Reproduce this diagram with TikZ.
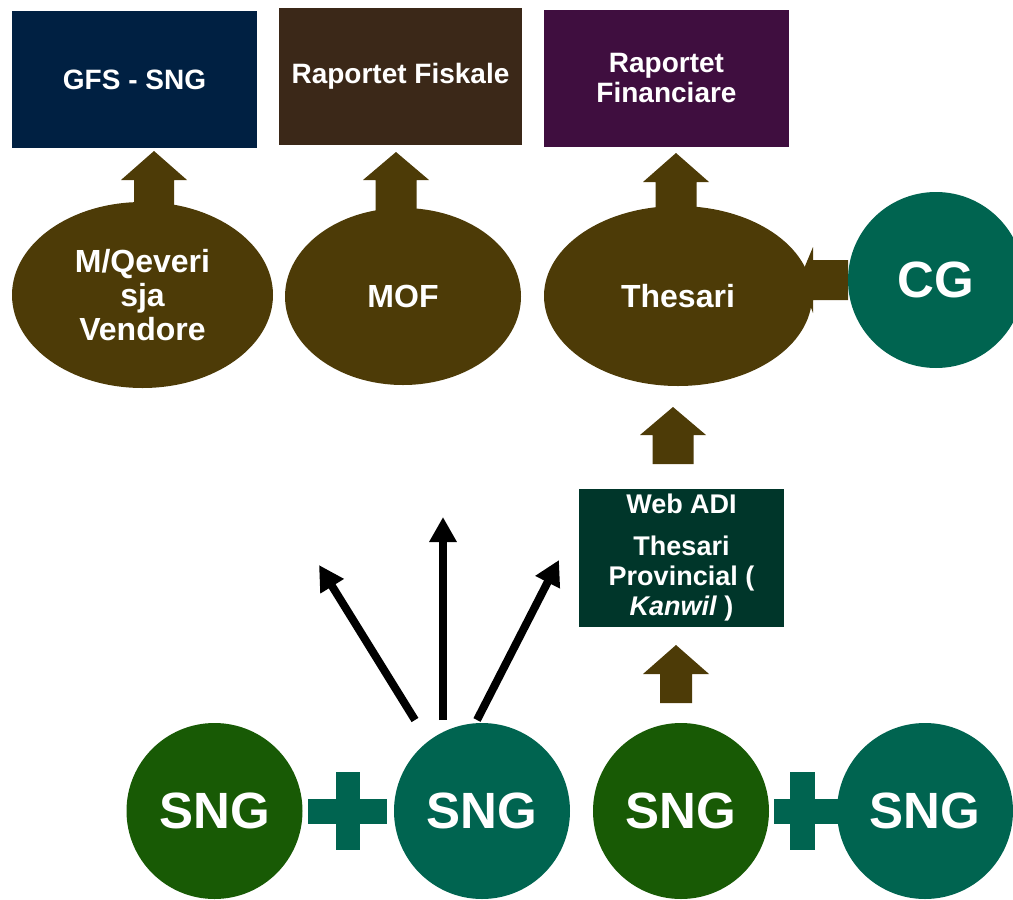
\documentclass[tikz,border=0pt]{standalone}
\usepackage{fontspec}
\setmainfont{Liberation Sans}
\usetikzlibrary{shapes.geometric,arrows.meta}
\definecolor{navyc}{HTML}{002042}
\definecolor{fiskc}{HTML}{3B2818}
\definecolor{finc}{HTML}{3F0E3F}
\definecolor{brownc}{HTML}{4D3B07}
\definecolor{tealc}{HTML}{006450}
\definecolor{greenc}{HTML}{185A05}
\definecolor{webc}{HTML}{00362A}
\tikzset{
  report/.style={rectangle, inner sep=0pt, text=white, align=center,
    font=\bfseries\fontsize{28}{30}\selectfont},
  office/.style={ellipse, fill=brownc, inner sep=0pt, text=white, align=center,
    font=\bfseries\fontsize{32}{34}\selectfont},
  unit/.style={circle, inner sep=0pt, minimum size=176pt, text=white,
    font=\bfseries\fontsize{51}{56}\selectfont},
  blk/.style={line width=8pt, -{Triangle[width=26pt,length=25pt]}}
}
% block arrow pointing up: centre x, tip y, head base y, bottom y, shaft half width
\newcommand{\blockup}[5]{%
  \fill[brownc] ({#1-#5},#4) -- ({#1-#5},#3) -- ({#1-33},#3) -- (#1,#2)
    -- ({#1+33},#3) -- ({#1+#5},#3) -- ({#1+#5},#4) -- cycle;}
\begin{document}
\begin{tikzpicture}[x=1pt, y=-1pt]
\useasboundingbox (0,0) rectangle (1013,900);
% reports
\node[report, fill=navyc, minimum width=245pt, minimum height=137pt] (gfs) at (134.5,79.5) {GFS - SNG};
\node[report, fill=fiskc, minimum width=243pt, minimum height=137pt] (fisk) at (400.5,76.5) {Raportet Fiskale};
\node[report, fill=finc, minimum width=245pt, minimum height=137pt] (fin) at (666.5,78.5) {Raportet\\Financiare};
% arrows up to the reports
\blockup{154}{151}{180}{215}{20}
\blockup{396}{152}{180}{215}{20.5}
\blockup{676}{153}{182}{215}{20.5}
% offices
\node[office, minimum width=261pt, minimum height=186pt] (mqv) at (142.5,295) {M/Qeveri\\sja\\Vendore};
\node[office, minimum width=236pt, minimum height=177pt] (mof) at (403,296.5) {MOF};
\node[office, minimum width=268pt, minimum height=180pt] (thes) at (678,296) {Thesari};
% CG into Thesari
\fill[brownc] (848,300) -- (813,300) -- (813,313) -- (800,278) -- (813,247)
  -- (813,260) -- (848,260) -- cycle;
\node[unit, fill=tealc] (cg) at (936,280) {CG};
% Web ADI
\blockup{673}{407}{435}{464}{20.5}
\node[report, fill=webc, minimum width=205pt, minimum height=138pt,
  font=\bfseries\fontsize{27}{30}\selectfont] (web) at (681.5,558)
  {Web ADI\\[12pt]Thesari\\Provincial (\\\textit{Kanwil} )};
\blockup{676}{645}{674}{703}{16}
% plus signs
\fill[tealc] (336,772) rectangle (360,850);
\fill[tealc] (308,799) rectangle (387,824);
\fill[tealc] (790,772) rectangle (815,850);
\fill[tealc] (774,799) rectangle (838,824);
% SNG units
\node[unit, fill=greenc] (sng1) at (214.5,811) {SNG};
\node[unit, fill=tealc] (sng2) at (482,811) {SNG};
\node[unit, fill=greenc] (sng3) at (681,811) {SNG};
\node[unit, fill=tealc] (sng4) at (925,811) {SNG};
% reporting lines
\coordinate (a1) at (415,720);
\coordinate (a2) at (443,720);
\coordinate (a3) at (477,720);
\coordinate (t1) at (319,565);
\coordinate (t2) at (443,517);
\coordinate (t3) at (559,560);
\draw[blk] (a1) -- (t1);
\draw[blk] (a2) -- (t2);
\draw[blk] (a3) -- (t3);
\end{tikzpicture}
\end{document}
